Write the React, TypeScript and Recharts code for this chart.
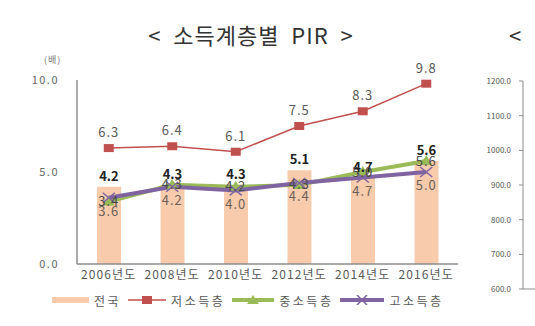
import React from 'react';
import { ComposedChart, LineChart, Bar, Line, XAxis, YAxis, LabelList } from 'recharts';

const years = ['2006년도', '2008년도', '2010년도', '2012년도', '2014년도', '2016년도'];
const national = [4.2, 4.3, 4.3, 5.1, 4.7, 5.6];
const lowIncome = [6.3, 6.4, 6.1, 7.5, 8.3, 9.8];
const midIncome = [3.4, 4.3, 4.2, 4.3, 5.0, 5.6];
const highIncome = [3.6, 4.2, 4.0, 4.4, 4.7, 5.0];
const yTicks = [0, 5, 10];
const sideTicks = [600, 700, 800, 900, 1000, 1100, 1200];

const data = years.map((year, i) => ({
    year,
    national: national[i],
    low: lowIncome[i],
    mid: midIncome[i],
    high: highIncome[i],
}));

const sideData = years.map((year) => ({ year }));

const FONT = "'Noto Sans CJK KR', 'Noto Sans', sans-serif";
const BAR = '#f8cbad';
const RED = '#c0504d';
const GREEN = '#9bbb59';
const PURPLE = '#8064a2';
const AXIS = '#8c8c8c';

const fmt = (v: any) => (typeof v === 'number' ? v.toFixed(1) : '');

const SquareDot = (props: any) => {
    const { cx, cy, index } = props;
    if (cx == null || cy == null) return <g key={`sq-${index}`} />;
    return <rect key={`sq-${index}`} x={cx - 5} y={cy - 4} width={10} height={8} fill={RED} />;
};

const TriangleDot = (props: any) => {
    const { cx, cy, index } = props;
    if (cx == null || cy == null) return <g key={`tr-${index}`} />;
    return <polygon key={`tr-${index}`} points={`${cx},${cy - 6} ${cx - 6},${cy + 4} ${cx + 6},${cy + 4}`} fill={GREEN} />;
};

const CrossDot = (props: any) => {
    const { cx, cy, index } = props;
    if (cx == null || cy == null) return <g key={`x-${index}`} />;
    return (
        <g key={`x-${index}`} stroke={PURPLE} strokeWidth={1.5}>
            <line x1={cx - 6} y1={cy - 5} x2={cx + 6} y2={cy + 5} />
            <line x1={cx - 6} y1={cy + 5} x2={cx + 6} y2={cy - 5} />
        </g>
    );
};

const legendText: React.CSSProperties = { fontSize: 12, letterSpacing: 2.5, color: '#595959', marginLeft: 5, marginRight: 7 };

export default function App() {
    return (
        <div style={{ position: 'absolute', left: 0, top: 0, width: 535, height: 326, overflow: 'hidden', background: '#fff', fontFamily: FONT }}>
            {/* titles */}
            <div style={{ position: 'absolute', left: 0, width: 502, top: 18, textAlign: 'center', fontSize: 22, letterSpacing: 1, color: '#333', whiteSpace: 'pre' }}>
                {'<  소득계층별  PIR  >'}
            </div>
            <div style={{ position: 'absolute', left: 509, top: 18, fontSize: 22, color: '#333' }}>{'<'}</div>
            <div style={{ position: 'absolute', left: 44, top: 53, fontSize: 9, color: '#777', letterSpacing: 1 }}>(배)</div>

            <div style={{ position: 'absolute', left: 0, top: 0 }}>
                <ComposedChart width={470} height={326} data={data} margin={{ top: 80, right: 12, bottom: 32, left: 0 }} barCategoryGap="31%">
                    <XAxis
                        dataKey="year"
                        height={30}
                        axisLine={{ stroke: AXIS, strokeWidth: 1.5 }}
                        tickLine={false}
                        tickSize={0}
                        tickMargin={6}
                        tick={{ fill: '#595959', fontSize: 12, letterSpacing: 1.1 }}
                        interval={0}
                    />
                    <YAxis
                        width={77}
                        domain={[0, 10]}
                        ticks={yTicks}
                        tickFormatter={(v: number) => v.toFixed(1)}
                        axisLine={{ stroke: AXIS, strokeWidth: 1.5 }}
                        tickLine={false}
                        tickSize={0}
                        tickMargin={18}
                        tick={{ fill: '#666', fontSize: 11, letterSpacing: 1.5 }}
                    />
                    <Bar dataKey="national" fill={BAR} barSize={24} isAnimationActive={false}>
                        <LabelList dataKey="national" position="top" offset={6} formatter={fmt} fill="#222" fontSize={13} fontWeight={700} />
                    </Bar>
                    <Line dataKey="low" stroke={RED} strokeWidth={1.5} dot={SquareDot} activeDot={false} isAnimationActive={false}>
                        <LabelList dataKey="low" position="top" offset={11} formatter={fmt} fill="#595959" fontSize={13} letterSpacing={1} />
                    </Line>
                    <Line dataKey="mid" stroke={GREEN} strokeWidth={4} dot={TriangleDot} activeDot={false} isAnimationActive={false}>
                        <LabelList dataKey="mid" position="center" formatter={fmt} fill="#4a4a4a" fontSize={13} letterSpacing={1} />
                    </Line>
                    <Line dataKey="high" stroke={PURPLE} strokeWidth={4} dot={CrossDot} activeDot={false} isAnimationActive={false}>
                        <LabelList dataKey="high" position="bottom" offset={9} formatter={fmt} fill="#6e6258" fontSize={13} letterSpacing={1} />
                    </Line>
                </ComposedChart>
            </div>

            {/* legend */}
            <div style={{ position: 'absolute', left: 52, top: 291, display: 'flex', alignItems: 'center', height: 18 }}>
                <svg width={37} height={10}><rect x={0} y={2} width={37} height={6} fill={BAR} /></svg>
                <span style={legendText}>전국</span>
                <svg width={38} height={10}>
                    <line x1={0} y1={5} x2={38} y2={5} stroke={RED} strokeWidth={1.5} />
                    <rect x={14} y={1} width={10} height={8} fill={RED} />
                </svg>
                <span style={legendText}>저소득층</span>
                <svg width={42} height={10}>
                    <line x1={0} y1={5} x2={42} y2={5} stroke={GREEN} strokeWidth={4} />
                    <polygon points="21,0 15,9 27,9" fill={GREEN} />
                </svg>
                <span style={legendText}>중소득층</span>
                <svg width={44} height={10}>
                    <line x1={0} y1={5} x2={44} y2={5} stroke={PURPLE} strokeWidth={4} />
                    <line x1={17} y1={0} x2={27} y2={10} stroke={PURPLE} strokeWidth={1.5} />
                    <line x1={17} y1={10} x2={27} y2={0} stroke={PURPLE} strokeWidth={1.5} />
                </svg>
                <span style={legendText}>고소득층</span>
            </div>

            {/* neighbouring chart, cut off at the right edge */}
            <div style={{ position: 'absolute', left: 443, top: 0 }}>
                <LineChart width={200} height={326} data={sideData} margin={{ top: 81, right: 0, bottom: 35, left: 0 }}>
                    <XAxis dataKey="year" height={2} tick={false} tickLine={false} axisLine={{ stroke: AXIS, strokeWidth: 1 }} />
                    <YAxis
                        type="number"
                        width={80}
                        domain={[600, 1200]}
                        allowDataOverflow
                        ticks={sideTicks}
                        interval={0}
                        tickFormatter={(v: number) => v.toFixed(1)}
                        axisLine={{ stroke: AXIS, strokeWidth: 1 }}
                        tickLine={{ stroke: AXIS }}
                        tickSize={4}
                        tickMargin={8}
                        tick={{ fill: '#555', fontSize: 8 }}
                    />
                </LineChart>
            </div>
        </div>
    );
}
